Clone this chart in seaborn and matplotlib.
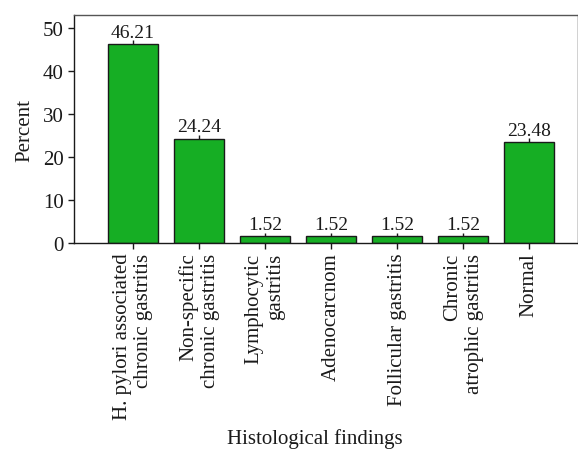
import matplotlib
matplotlib.use("Agg")
import matplotlib.pyplot as plt
import seaborn as sns
import pandas as pd
import numpy as np

categories = ["H. pylori associated\nchronic gastritis", "Non-specific\nchronic gastritis",
              "Lymphocytic\ngastritis", "Adenocarcnom", "Follicular gastritis",
              "Chronic\natrophic gastritis", "Normal"]
percent = [46.21, 24.24, 1.52, 1.52, 1.52, 1.52, 23.48]
err_up = [0.9, 0.9, 0.9, 0.9, 0.9, 0.9, 0.9]
value_labels = ["46.21", "24.24", "1.52", "1.52", "1.52", "1.52", "23.48"]
yticks = [0, 10, 20, 30, 40, 50]

sns.set_theme(style="ticks")
plt.rcParams['font.family'] = ['Liberation Serif', 'DejaVu Serif']

df = pd.DataFrame({"cat": categories, "pct": percent})

fig = plt.figure(figsize=(5.78, 4.6), dpi=100)
ax = fig.add_axes([74/578, 1-244/460, 1-74/578, (244-16)/460])

sns.barplot(data=df, x="cat", y="pct", color="#16ae24", saturation=1, width=0.76,
            edgecolor="#1a1a1a", linewidth=1.0, ax=ax, errorbar=None)
xs = np.arange(len(categories))
ax.errorbar(xs, percent, yerr=[np.zeros(len(percent)), err_up], fmt='none',
            ecolor="#1a1a1a", elinewidth=1.0, capsize=0)
for x, v, e, lab in zip(xs, percent, err_up, value_labels):
    ax.text(x, v + e - 0.1, lab, ha='center', va='bottom', fontsize=14, color="#1a1a1a")

ax.set_xlim(-0.894, 6.74)
ax.set_ylim(0, 53)
ax.set_yticks(yticks)
ax.tick_params(axis='both', direction='out', length=4, width=1, colors="#1a1a1a",
               labelsize=15, labelcolor="#1a1a1a")
ax.tick_params(axis='x', pad=3)
ax.set_xticks(xs)
ax.set_xticklabels(categories, rotation=90, ha='center', va='top', multialignment='right')
ax.set_xlabel("Histological findings", fontsize=15, color="#1a1a1a")
ax.xaxis.set_label_coords(0.478, -0.81)
ax.set_ylabel("Percent", fontsize=15, color="#1a1a1a", labelpad=6)
for s in ax.spines.values():
    s.set_visible(True)
    s.set_color("#1a1a1a")
    s.set_linewidth(1.0)
ax.spines['top'].set_color("#555555")

fig.savefig("out.png", dpi=100)
